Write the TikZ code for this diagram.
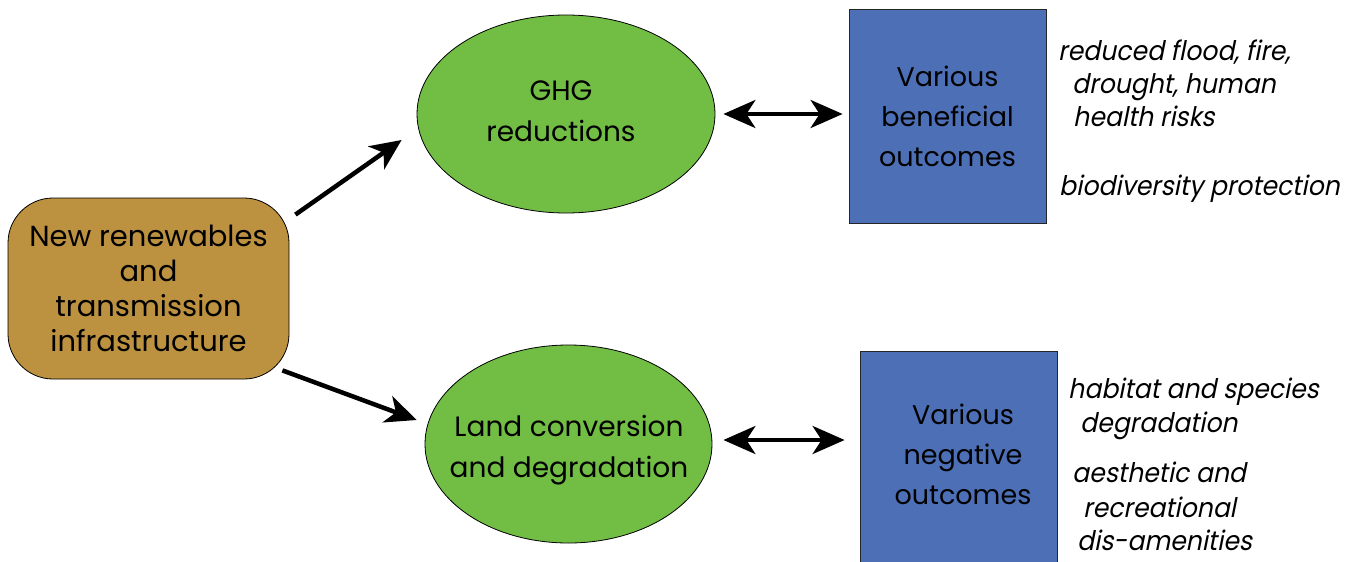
\documentclass[tikz,border=0pt]{standalone}
\usepackage{fontspec}
\setmainfont{Poppins}
\newfontfamily\slfont{Poppins}[FakeSlant=0.2, FakeStretch=0.93]
\usetikzlibrary{arrows.meta,shapes.geometric}
\definecolor{brownfill}{RGB}{188,145,64}
\definecolor{greenfill}{RGB}{114,190,69}
\definecolor{bluefill}{RGB}{76,111,182}
\tikzset{
  brownbox/.style={draw=black, line width=0.8pt, fill=brownfill, rounded corners=45pt,
    minimum width=281pt, minimum height=181pt, align=center, inner sep=0pt,
    font=\fontsize{29}{35}\selectfont},
  greenell/.style={draw=black, line width=0.8pt, fill=greenfill, ellipse, inner sep=0pt},
  greentext/.style={align=center, inner sep=0pt, text depth=0pt, font=\fontsize{28}{41}\selectfont},
  bluebox/.style={draw=black!85, line width=0.8pt, fill=bluefill, inner sep=0pt,
    minimum width=197pt},
  bluetext/.style={align=center, inner sep=0pt, font=\fontsize{27}{40}\selectfont},
  ital/.style={anchor=base west, inner sep=0pt, font=\slfont\fontsize{27}{30}\selectfont},
  arr/.style={line width=4.5pt, -{Stealth[length=31pt, width=28pt, inset=9pt]}},
  darr/.style={line width=4pt, {Stealth[length=32pt, width=28pt, inset=9pt]}-{Stealth[length=32pt, width=28pt, inset=9pt]}}
}
\begin{document}
\begin{tikzpicture}[x=1pt, y=-1pt]
\useasboundingbox (0,0) rectangle (1352,562);
\node[brownbox] (src) at (148.5,288.5) {New renewables\\and\\transmission\\infrastructure};
\node[greenell, minimum width=298pt, minimum height=198pt] (ghg) at (566,114) {};
\node[greentext] (ghgt) at (561,111) {GHG\\reductions};
\node[greenell, minimum width=287pt, minimum height=198pt] (land) at (568.5,444) {};
\node[greentext] (landt) at (569,446) {Land conversion\\and degradation};
\node[bluebox, minimum height=214pt, bluetext] (ben) at (947.5,116) {Various\\beneficial\\outcomes};
\begin{scope}
\clip (0,0) rectangle (1352,562);
\node[bluebox, minimum height=229pt] (neg) at (958.5,465.5) {};
\end{scope}
\node[bluetext] (negt) at (963,454) {Various\\negative\\outcomes};
% connectors
\draw[arr] ([shift={(6,17)}]src.north east) -- ([shift={(-15,26)}]ghg.west);
\draw[arr] ([shift={(-7,-9)}]src.south east) -- ([shift={(-8,-24)}]land.west);
\draw[darr] ([xshift=8pt]ghg.east) -- ([xshift=-6pt]ghg.east -| ben.west);
\draw[darr] ([shift={(11,-4)}]land.east) -- ([shift={(-15,-4)}]land.east -| neg.west);
% side texts
\node[ital] (r1) at (1058,60) {reduced flood, fire,};
\node[ital] (r2) at (1072,93) {drought, human};
\node[ital] (r3) at (1073,126) {health risks};
\node[ital] (r4) at (1059,195) {biodiversity protection};
\node[ital] (n1) at (1068,398) {habitat and species};
\node[ital] (n2) at (1080,432) {degradation};
\node[ital] (n3) at (1072,482) {aesthetic and};
\node[ital] (n4) at (1083,517) {recreational};
\node[ital] (n5) at (1077,550) {dis-amenities};
\end{tikzpicture}
\end{document}
